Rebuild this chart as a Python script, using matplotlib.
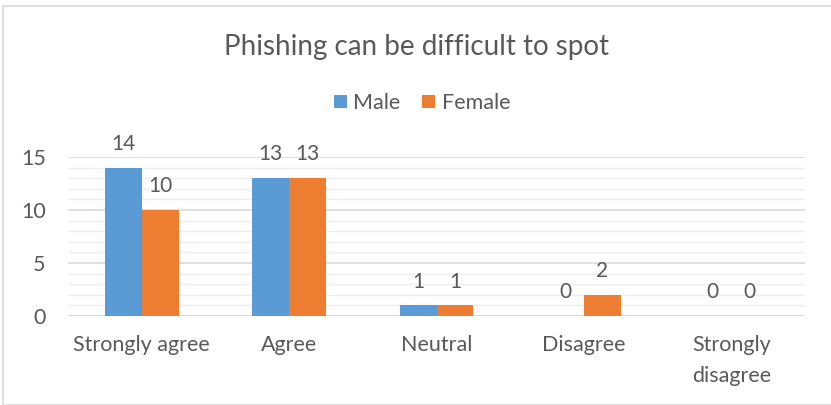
import matplotlib.pyplot as plt
import numpy as np
from matplotlib.patches import Rectangle

categories = ["Strongly agree", "Agree", "Neutral", "Disagree", "Strongly\ndisagree"]
male = [14, 13, 1, 0, 0]
female = [10, 13, 1, 2, 0]

blue = "#5B9BD5"
orange = "#ED7D31"
text_col = "#595959"

plt.rcParams["font.family"] = ["Lato", "DejaVu Sans"]

fig = plt.figure(figsize=(8.31, 4.05), dpi=100)
ax = fig.add_axes([68 / 831, 1 - 316 / 405, 737 / 831, 159 / 405])

# chart frame
fig.patches.append(Rectangle((3 / 831, 0), 1, 1 - 6 / 405, transform=fig.transFigure,
                             fill=False, edgecolor="#D9D9D9", lw=1.2))

x = np.arange(len(categories))
w = 0.25
b1 = ax.bar(x - w / 2, male, w, color=blue, label="Male", zorder=3)
b2 = ax.bar(x + w / 2, female, w, color=orange, label="Female", zorder=3)

for bars, vals in ((b1, male), (b2, female)):
    for bar, v in zip(bars, vals):
        ax.annotate(str(v), (bar.get_x() + bar.get_width() / 2, v),
                    xytext=(0, 10), textcoords="offset points",
                    ha="center", va="bottom", fontsize=15, color=text_col,
                    annotation_clip=False)

ax.set_xlim(-0.5, len(categories) - 0.5)
ax.set_ylim(0, 15)
ax.set_yticks([0, 5, 10, 15])
ax.set_yticks(np.arange(0, 16, 1), minor=True)
ax.grid(axis="y", which="major", color="#D9D9D9", lw=1.2, zorder=0)
ax.grid(axis="y", which="minor", color="#EEEEEE", lw=1.0, zorder=0)

ax.set_xticks(x)
ax.set_xticklabels(categories, linespacing=1.65)
ax.tick_params(axis="both", which="both", length=0, labelsize=15.5, colors=text_col)
ax.tick_params(axis="x", pad=14)
ax.tick_params(axis="y", pad=16)
for s in ax.spines.values():
    s.set_visible(False)
ax.axhline(0, color="#D9D9D9", lw=1.2, zorder=2)

fig.text(416 / 831, 1 - 47 / 405, "Phishing can be difficult to spot",
         ha="center", va="center", fontsize=20, color=text_col)
fig.legend(handles=[b1, b2], loc="center", bbox_to_anchor=(422 / 831, 1 - 103 / 405),
           ncol=2, frameon=False, fontsize=15.5, labelcolor=text_col,
           handlelength=0.6, handleheight=0.6, handletextpad=0.3, columnspacing=1.0)

plt.savefig("out.png", dpi=100)
